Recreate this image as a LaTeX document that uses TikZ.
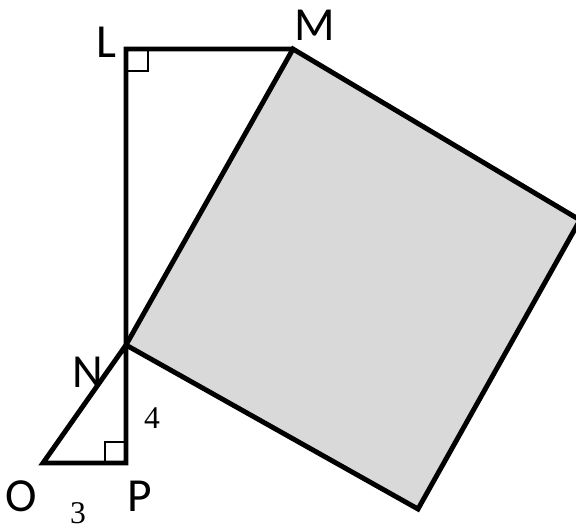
\documentclass[tikz,border=0pt]{standalone}
\usepackage{fontspec}
\setmainfont{Liberation Serif}
\newfontfamily\lettres{Carlito}
\usetikzlibrary{positioning}
\definecolor{remplissage}{HTML}{D9D9D9}
\tikzset{
  trait/.style={line width=2.8pt, line join=miter},
  angledroit/.style={line width=0.9pt},
  sommet/.style={font=\lettres\fontsize{27}{27}\selectfont, inner sep=0pt},
  longueur/.style={font=\fontsize{18}{18}\selectfont, inner sep=0pt}
}
\begin{document}
\begin{tikzpicture}[x=0.02cm, y=-0.02cm]
    \useasboundingbox (0,0) rectangle (576,529);
    % Points
    \coordinate (l) at (126,49);
    \coordinate (m) at (293,49);
    \coordinate (n) at (126,345);
    \coordinate (p) at (126,463);
    \coordinate (o) at (43,463);
    \coordinate (r) at (580,220);
    \coordinate (b) at (418,509);
    % Carre grise
    \fill[remplissage] (m) -- (r) -- (b) -- (n) -- cycle;
    \draw[trait] (n) -- (m) -- (r) -- (b) -- cycle;
    % Triangles
    \draw[trait] (m) -- (l) -- (p) -- (o) -- (n);
    % Angles droits
    \draw[angledroit] ([xshift=0.44cm]l) |- ([yshift=-0.44cm]l);
    \draw[angledroit] ([xshift=-0.42cm]p) |- ([yshift=0.42cm]p);
    % Etiquettes
    \node[sommet] (lab-l) at (106,42) {L};
    \node[sommet] (lab-m) at (315,25) {M};
    \node[sommet] (lab-n) at (88,372) {N};
    \node[sommet] (lab-o) at (21,496) {O};
    \node[sommet] (lab-p) at (140,496) {P};
    \node[longueur] (lab-4) at (152,418) {4};
    \node[longueur] (lab-3) at (78,513) {3};
\end{tikzpicture}
\end{document}
